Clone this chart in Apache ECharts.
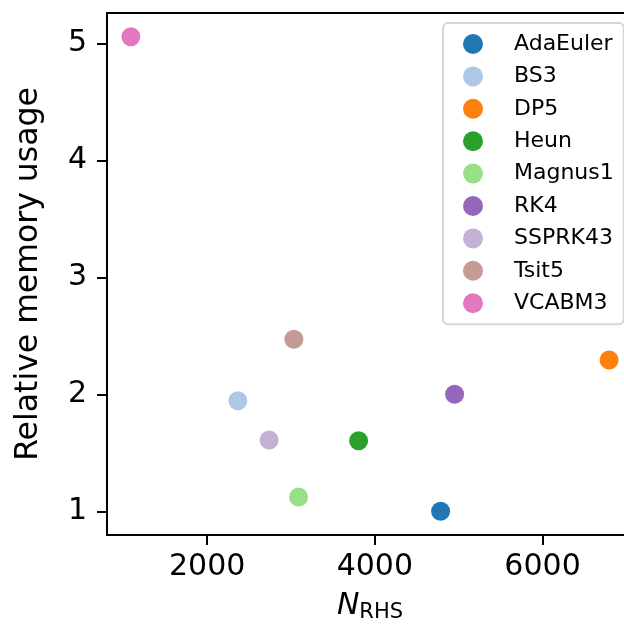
<!DOCTYPE html>
<html>
<head>
<meta charset="utf-8">
<script src="https://cdn.jsdelivr.net/npm/echarts@6/dist/echarts.min.js"></script>
<style>
    html, body { margin: 0; padding: 0; background: #fff; }
    #chart { width: 624px; height: 630px; }
</style>
</head>
<body>
<div id="chart"></div>
<script>
// solver names and measured values
const methods = ['AdaEuler', 'BS3', 'DP5', 'Heun', 'Magnus1', 'RK4', 'SSPRK43', 'Tsit5', 'VCABM3'];
const nRhs = [4784, 2366, 6794, 3806, 3090, 4951, 2739, 3034, 1090];
const memUsage = [1.0, 1.945, 2.293, 1.603, 1.122, 2.0, 1.609, 2.47, 5.056];
const colors = ['#1f77b4', '#aec7e8', '#ff7f0e', '#2ca02c', '#98df8a', '#9467bd', '#c5b0d5', '#c49c94', '#e377c2'];

const xTicks = [2000, 4000, 6000];
const yTicks = [1, 2, 3, 4, 5];

const font = 'DejaVu Sans';

const chart = echarts.init(document.getElementById('chart'));

const series = methods.map((name, i) => ({
    name: name,
    type: 'scatter',
    symbol: 'circle',
    symbolSize: 19,
    itemStyle: { color: colors[i], opacity: 1 },
    data: [[nRhs[i], memUsage[i]]]
}));

const option = {
    animation: false,
    backgroundColor: '#fff',
    grid: {
        left: 107,
        top: 13,
        bottom: 95,
        width: 526, // axes run past the right edge of the image
        outerBoundsMode: 'none',
        show: true,
        borderColor: '#000',
        borderWidth: 2
    },
    xAxis: {
        type: 'value',
        min: 805,
        max: 7079,
        splitLine: { show: false },
        axisLine: { show: true, lineStyle: { color: '#000', width: 2 } },
        axisTick: { show: true, length: 10, lineStyle: { color: '#000', width: 2 }, customValues: xTicks },
        axisLabel: {
            customValues: xTicks, color: '#000', fontSize: 30, fontFamily: font, margin: 17,
            formatter: v => String(v)
        },
        name: '{n|N}{s|RHS}',
        nameLocation: 'middle',
        nameGap: 55,
        nameTextStyle: {
            rich: {
                n: { fontSize: 30, fontStyle: 'italic', fontFamily: font, color: '#000' },
                s: { fontSize: 21, fontFamily: font, color: '#000', padding: [12, 0, 0, 0] }
            }
        }
    },
    yAxis: {
        type: 'value',
        min: 0.797,
        max: 5.259,
        splitLine: { show: false },
        axisLine: { show: true, lineStyle: { color: '#000', width: 2 } },
        axisTick: { show: true, length: 10, lineStyle: { color: '#000', width: 2 }, customValues: yTicks },
        axisLabel: { customValues: yTicks, color: '#000', fontSize: 30, fontFamily: font, margin: 20 },
        name: 'Relative memory usage',
        nameLocation: 'middle',
        nameGap: 62,
        nameTextStyle: { fontSize: 31.5, fontFamily: font, color: '#000' }
    },
    legend: {
        orient: 'vertical',
        left: 443,
        top: 23,
        padding: [10, 10, 10, 20],
        itemWidth: 20,
        itemHeight: 20,
        itemGap: 10.4,
        icon: 'circle',
        backgroundColor: '#fff',
        borderColor: '#d6d6d6',
        borderWidth: 2,
        borderRadius: 5,
        textStyle: { fontSize: 22, fontFamily: font, color: '#000', padding: [0, 0, 0, 26] },
        data: methods
    },
    series: series
};

chart.setOption(option);
</script>
</body>
</html>
